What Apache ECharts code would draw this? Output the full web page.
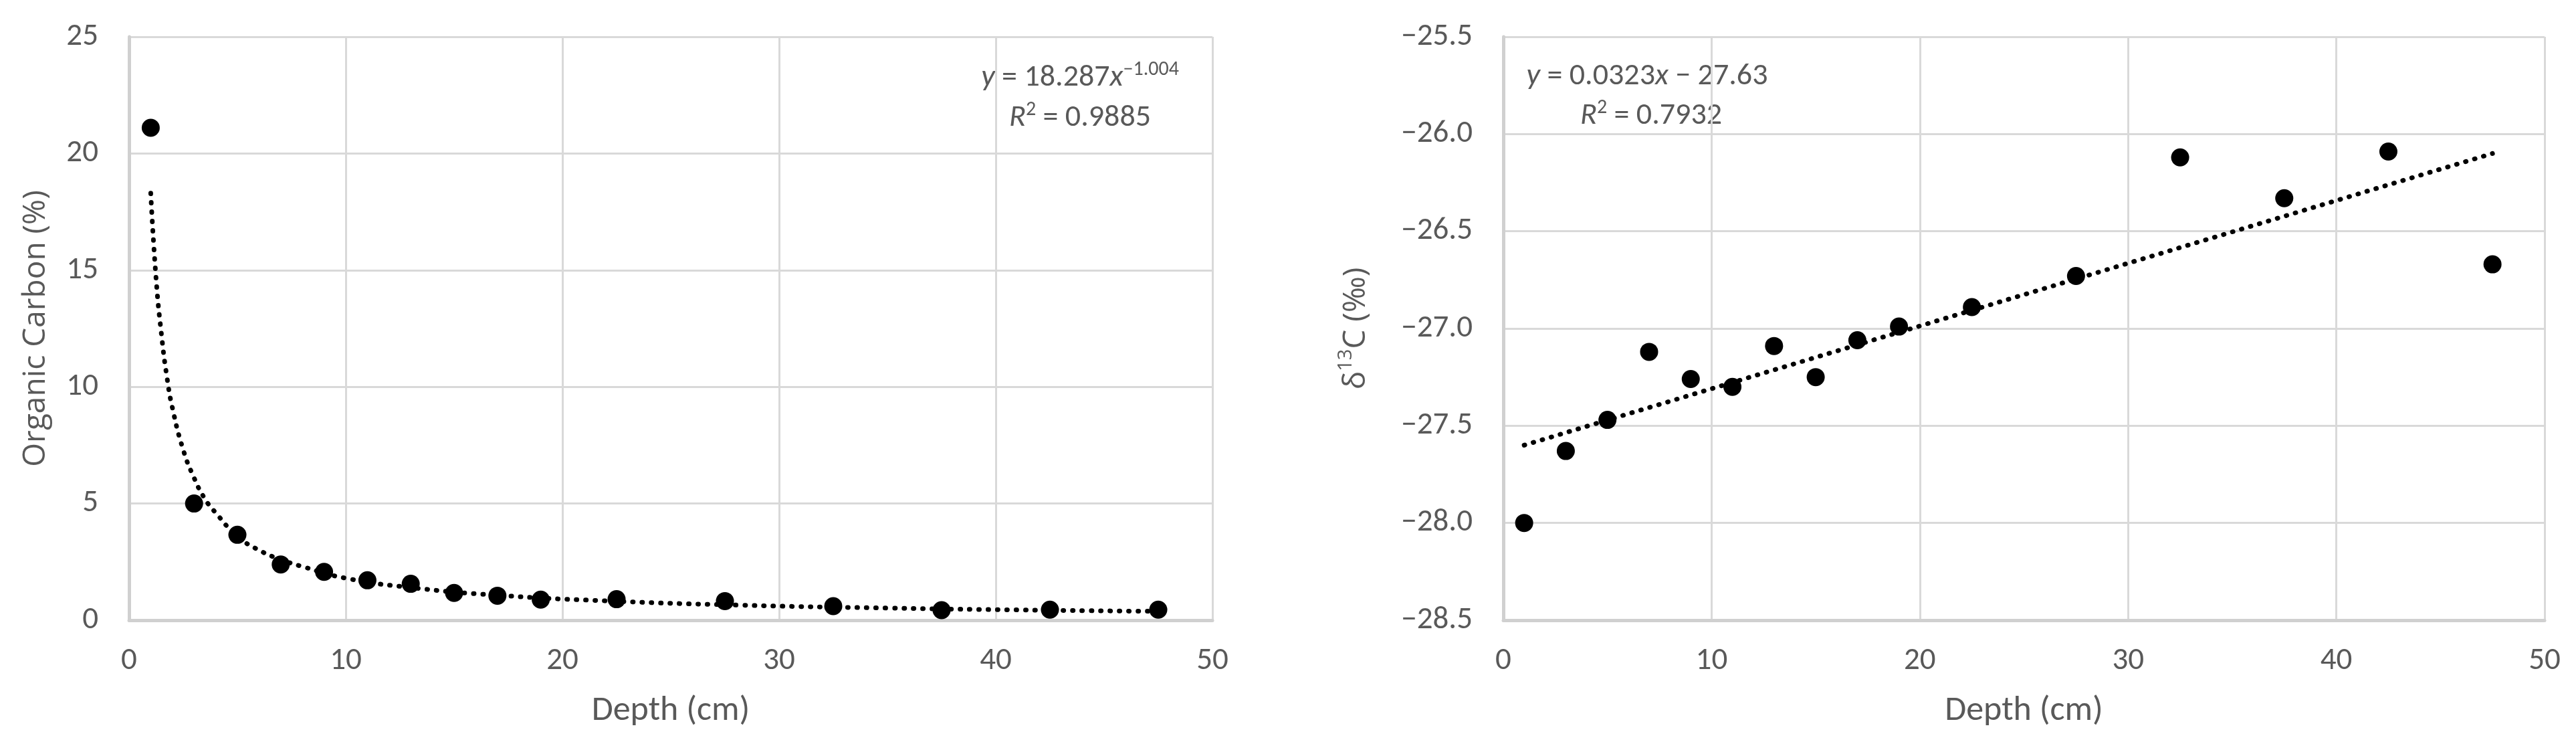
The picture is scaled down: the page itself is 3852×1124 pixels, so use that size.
<!DOCTYPE html>
<html>
<head>
<meta charset="utf-8">
<script src="https://cdn.jsdelivr.net/npm/echarts@6/dist/echarts.min.js"></script>
<style>
  html, body { margin: 0; padding: 0; background: #fff; }
  #main { width: 3852px; height: 1124px; }
</style>
</head>
<body>
<div id="main"></div>
<script>
// depth of each sample (cm)
var depth = [1, 3, 5, 7, 9, 11, 13, 15, 17, 19, 22.5, 27.5, 32.5, 37.5, 42.5, 47.5];
// organic carbon (%)
var organicCarbon = [21.1, 5.0, 3.66, 2.39, 2.07, 1.71, 1.56, 1.17, 1.05, 0.88, 0.9, 0.82, 0.6, 0.43, 0.45, 0.45];
// delta 13C (permil)
var d13C = [-28.0, -27.63, -27.47, -27.12, -27.26, -27.3, -27.09, -27.25, -27.06, -26.99, -26.89, -26.73, -26.12, -26.33, -26.09, -26.67];

// power trendline
var powerTrendX = [1, 1.25, 1.5, 1.75, 2, 2.5, 3, 3.5, 4, 5, 6, 7, 8, 10, 13, 17, 22, 28, 35, 42, 47.5];
var powerTrendY = [18.3, 14.6, 12.2, 10.4, 9.1, 7.3, 6.1, 5.2, 4.6, 3.6, 3.0, 2.6, 2.3, 1.8, 1.4, 1.07, 0.83, 0.65, 0.52, 0.43, 0.38];
// linear trendline end points
var linTrendX = [1, 47.5];
var linTrendY = [-27.6, -26.1];

function zip(a, b) {
  return a.map(function (v, i) { return [v, b[i]]; });
}

var tickFont = "'Carlito', 'Liberation Sans Narrow', 'DejaVu Sans Condensed', 'Open Sans', sans-serif";
var titleFont = "'Open Sans', 'Noto Sans', sans-serif";
var gray = '#595959';
var gridColor = '#d9d9d9';

var chart = echarts.init(document.getElementById('main'));

function xAxisCfg(gi) {
  return {
    type: 'value', gridIndex: gi, min: 0, max: 50, interval: 10,
    name: 'Depth (cm)', nameLocation: 'middle', nameGap: 110,
    nameTextStyle: { color: gray, fontSize: 52, fontFamily: tickFont },
    axisLine: { show: true, onZero: false, lineStyle: { color: '#d0d0d0', width: 5 } },
    axisTick: { show: false },
    axisLabel: { color: gray, fontSize: 47, fontFamily: tickFont, margin: 38 },
    splitLine: { show: true, lineStyle: { color: gridColor, width: 3 } }
  };
}

var eqRich = {
  i: { fontStyle: 'italic', fontSize: 46, fontFamily: tickFont, fill: gray, lineHeight: 54 },
  s: { fontSize: 30, fontFamily: tickFont, fill: gray, verticalAlign: 'top', lineHeight: 54, padding: [0, 0, 16, 0] }
};

function eqText(x, y, txt) {
  return {
    type: 'text', x: x, y: y,
    style: {
      text: txt, align: 'center', verticalAlign: 'middle',
      fill: gray, font: '46px ' + tickFont, rich: eqRich
    }
  };
}

var option = {
  backgroundColor: '#fff',
  animation: false,
  grid: [
    { left: 193, top: 55, width: 1620, height: 872 },
    { left: 2248, top: 55, width: 1557, height: 872 }
  ],
  xAxis: [xAxisCfg(0), xAxisCfg(1)],
  yAxis: [
    {
      type: 'value', gridIndex: 0, min: 0, max: 25, interval: 5,
      name: 'Organic Carbon (%)', nameLocation: 'middle', nameGap: 116,
      nameTextStyle: { color: gray, fontSize: 46, fontFamily: titleFont },
      axisLine: { show: true, onZero: false, lineStyle: { color: '#d0d0d0', width: 5 } },
      axisTick: { show: false },
      axisLabel: { color: gray, fontSize: 47, fontFamily: tickFont, margin: 46 },
      splitLine: { show: true, lineStyle: { color: gridColor, width: 3 } }
    },
    {
      type: 'value', gridIndex: 1, min: -28.5, max: -25.5, interval: 0.5,
      name: '{a|δ}{s|13}{a|C (‰)}', nameLocation: 'middle', nameGap: 190,
      nameTextStyle: {
        color: gray, fontSize: 46, fontFamily: titleFont,
        rich: {
          a: { color: gray, fontSize: 46, fontFamily: titleFont, lineHeight: 60 },
          s: { color: gray, fontSize: 29, fontFamily: titleFont, verticalAlign: 'top', lineHeight: 60, padding: [0, 0, 14, 0] }
        }
      },
      axisLine: { show: true, onZero: false, lineStyle: { color: '#d0d0d0', width: 5 } },
      axisTick: { show: false },
      axisLabel: {
        color: gray, fontSize: 47, fontFamily: tickFont, margin: 46,
        formatter: function (v) { return v.toFixed(1).replace('-', '\u2212'); }
      },
      splitLine: { show: true, lineStyle: { color: gridColor, width: 3 } }
    }
  ],
  series: [
    {
      type: 'line', xAxisIndex: 0, yAxisIndex: 0, data: zip(powerTrendX, powerTrendY),
      smooth: true, showSymbol: false, symbol: 'none', z: 2,
      lineStyle: { color: '#000', width: 7, type: [1, 13], cap: 'round' }
    },
    {
      type: 'scatter', xAxisIndex: 0, yAxisIndex: 0, data: zip(depth, organicCarbon),
      symbol: 'circle', symbolSize: 27, itemStyle: { color: '#000', opacity: 1 }, z: 3
    },
    {
      type: 'line', xAxisIndex: 1, yAxisIndex: 1, data: zip(linTrendX, linTrendY),
      showSymbol: false, symbol: 'none', z: 2,
      lineStyle: { color: '#000', width: 7, type: [1, 13], cap: 'round' }
    },
    {
      type: 'scatter', xAxisIndex: 1, yAxisIndex: 1, data: zip(depth, d13C),
      symbol: 'circle', symbolSize: 27, itemStyle: { color: '#000', opacity: 1 }, z: 3
    }
  ],
  graphic: [
    eqText(1615, 116, '{i|y} = 18.287{i|x}{s|\u22121.004}'),
    eqText(1615, 176, '{i|R}{s|2} = 0.9885'),
    eqText(2463, 114, '{i|y} = 0.0323{i|x} \u2212 27.63'),
    eqText(2469, 173, '{i|R}{s|2} = 0.7932')
  ]
};

chart.setOption(option);
</script>
</body>
</html>
